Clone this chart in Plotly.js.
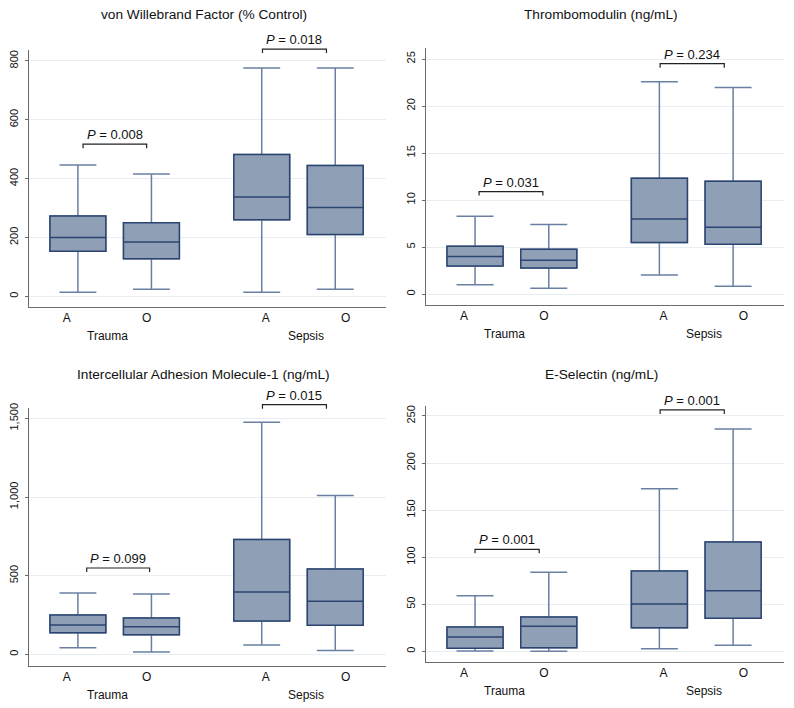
<!DOCTYPE html>
<html><head><meta charset="utf-8">
<script src="https://cdn.plot.ly/plotly-3.0.1.min.js"></script>
<style>html,body{margin:0;padding:0;background:#fff}#chart{width:794px;height:708px}</style>
</head><body><div id="chart"></div>
<script>
// ---- data (order: Trauma A, Trauma O, Sepsis A, Sepsis O) ----
const groupLabels = ['Trauma', 'Sepsis'];
const bloodTypes = ['A', 'O', 'A', 'O'];
const panelTitles = ['von Willebrand Factor (% Control)', 'Thrombomodulin (ng/mL)',
  'Intercellular Adhesion Molecule-1 (ng/mL)', 'E-Selectin (ng/mL)'];

const vwfLower  = [14, 24, 14, 24];
const vwfQ1     = [153, 128, 260, 210];
const vwfMedian = [200, 185, 338, 302];
const vwfQ3     = [273, 250, 482, 445];
const vwfUpper  = [446, 416, 776, 776];
const vwfP      = ['0.008', '0.018'];
const vwfBracket = [517, 840];

const tmLower  = [0.99, 0.60, 2.02, 0.82];
const tmQ1     = [2.98, 2.77, 5.47, 5.29];
const tmMedian = [3.98, 3.59, 7.99, 7.10];
const tmQ3     = [5.08, 4.76, 12.32, 12.00];
const tmUpper  = [8.27, 7.39, 22.58, 21.98];
const tmP      = ['0.031', '0.234'];
const tmBracket = [10.9, 24.5];

const icamLower  = [42, 15, 59, 25];
const icamQ1     = [138, 125, 212, 185];
const icamMedian = [187, 176, 397, 337];
const icamQ3     = [250, 231, 730, 543];
const icamUpper  = [390, 384, 1475, 1010];
const icamP      = ['0.099', '0.015'];
const icamBracket = [549, 1587];

const esLower  = [0.4, 0, 2.8, 6.4];
const esQ1     = [3.2, 3.9, 25.1, 35.1];
const esMedian = [15.2, 26.6, 50.3, 64.4];
const esQ3     = [25.9, 36.5, 85.3, 116.1];
const esUpper  = [59.1, 83.9, 172.8, 236.2];
const esP      = ['0.001', '0.001'];
const esBracket = [108.4, 256.4];

// ---- layout constants ----
const boxPos = [1, 3, 6, 8];
const labelPos = [0.70, 2.87, 6.11, 8.28];
const groupPos = [1.81, 7.21];
const xRange = [-0.33, 9.38];

const panels = [
  {lo: vwfLower, q1: vwfQ1, med: vwfMedian, q3: vwfQ3, up: vwfUpper, p: vwfP, br: vwfBracket,
   range: [-36, 837], dtick: 200, fmt: ',d', brX: [[1.14, 2.87], [6.02, 7.76]],
   xd: [29/794, 386/794], yd: [1-307/708, 1-50/708]},
  {lo: tmLower, q1: tmQ1, med: tmMedian, q3: tmQ3, up: tmUpper, p: tmP, br: tmBracket,
   range: [-1.17, 26.17], dtick: 5, fmt: ',d', brX: [[1.11, 2.84], [6.02, 7.76]],
   xd: [426/794, 784/794], yd: [1-305/708, 1-48/708]},
  {lo: icamLower, q1: icamQ1, med: icamMedian, q3: icamQ3, up: icamUpper, p: icamP, br: icamBracket,
   range: [-74, 1566], dtick: 500, fmt: ',d', brX: [[1.24, 2.95], [6.02, 7.76]],
   xd: [29/794, 386/794], yd: [1-666/708, 1-408/708]},
  {lo: esLower, q1: esQ1, med: esMedian, q3: esQ3, up: esUpper, p: esP, br: esBracket,
   range: [-11.3, 260.6], dtick: 50, fmt: ',d', brX: [[1.0, 2.74], [6.02, 7.76]],
   xd: [426/794, 784/794], yd: [1-662/708, 1-406/708]}
];

const FONT = 'Liberation Sans, Arial, Helvetica, sans-serif';
const fill = '#8e9fb6', edge = '#2b4470', whisk = '#6a80a3';
const data = [], shapes = [], annotations = [];
const layout = {
  width: 794, height: 708, margin: {l: 0, r: 0, t: 0, b: 0},
  paper_bgcolor: '#fff', plot_bgcolor: '#fff', showlegend: false,
  boxmode: 'overlay', font: {family: FONT, color: '#111'}
};

panels.forEach((pn, i) => {
  const n = i === 0 ? '' : String(i + 1);
  const xa = 'x' + n, ya = 'y' + n;
  // whiskers layer
  data.push({type: 'box', x: boxPos, q1: pn.q1, median: pn.med, q3: pn.q3,
    lowerfence: pn.lo, upperfence: pn.up, width: 1.52, whiskerwidth: 0.66,
    fillcolor: fill, line: {color: whisk, width: 1.5}, xaxis: xa, yaxis: ya,
    boxpoints: false, hoverinfo: 'skip'});
  // box layer
  data.push({type: 'box', x: boxPos, q1: pn.q1, median: pn.med, q3: pn.q3,
    lowerfence: pn.q1, upperfence: pn.q3, width: 1.52, whiskerwidth: 0,
    fillcolor: fill, line: {color: edge, width: 1.5}, xaxis: xa, yaxis: ya,
    boxpoints: false, hoverinfo: 'skip'});

  layout['xaxis' + n] = {domain: pn.xd, anchor: ya, range: xRange, showgrid: false, zeroline: false,
    showline: true, linecolor: '#6b6b6b', linewidth: 1, ticks: '',
    tickvals: labelPos, ticktext: bloodTypes, tickfont: {size: 12, color: '#111'}, fixedrange: true};
  layout['yaxis' + n] = {domain: pn.yd, anchor: xa, range: pn.range, dtick: pn.dtick, tick0: 0,
    tickformat: pn.fmt, showgrid: true, gridcolor: '#e6eef2', gridwidth: 1, zeroline: false,
    showline: true, linecolor: '#6b6b6b', linewidth: 1, ticks: 'outside', ticklen: 3,
    tickcolor: '#6b6b6b', tickangle: -90, tickfont: {size: 11, color: '#111'},
    ticklabelstandoff: 3, fixedrange: true};

  const frac = v => (v - pn.range[0]) / (pn.range[1] - pn.range[0]);
  const h = (pn.yd[1] - pn.yd[0]) * 708;
  const drop = 4 / h;
  pn.br.forEach((bv, k) => {
    const f = frac(bv);
    const [x1, x2] = pn.brX[k];
    shapes.push({type: 'path', xref: xa, yref: ya + ' domain',
      path: `M ${x1},${f - drop} L ${x1},${f} L ${x2},${f} L ${x2},${f - drop}`,
      line: {color: '#222', width: 1.2}});
    annotations.push({xref: xa, yref: ya + ' domain', x: (x1 + x2) / 2, y: f, yanchor: 'bottom',
      yshift: 0, showarrow: false, text: '<i>P</i> = ' + pn.p[k],
      font: {size: 13, color: '#111', family: FONT}});
  });
  groupLabels.forEach((g, k) => {
    annotations.push({xref: xa, yref: ya + ' domain', x: groupPos[k], y: 0, yshift: -29,
      yanchor: 'middle', showarrow: false, text: g, font: {size: 12, color: '#111', family: FONT}});
  });
  annotations.push({xref: xa + ' domain', yref: 'paper', x: 0.49, xanchor: 'center',
    y: i < 2 ? 1 - 15/708 : 1 - 374/708, yanchor: 'middle', showarrow: false,
    text: panelTitles[i], font: {size: 13.7, color: '#111', family: FONT}});
});
layout.shapes = shapes;
layout.annotations = annotations;
Plotly.newPlot('chart', data, layout, {displayModeBar: false, staticPlot: true});
</script></body></html>
